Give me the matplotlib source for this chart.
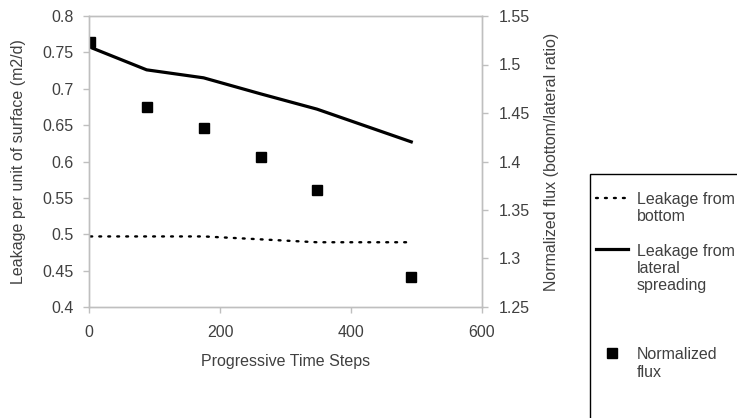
import matplotlib
matplotlib.use("Agg")
import matplotlib.pyplot as plt
from matplotlib.patches import Rectangle

plt.rcParams['font.family'] = ['Liberation Sans', 'DejaVu Sans']
plt.rcParams['font.size'] = 11.5

# data
steps = [2, 88, 175, 262, 348, 492]
bottom = [0.497, 0.497, 0.497, 0.493, 0.489, 0.489]
lateral = [0.757, 0.726, 0.715, 0.693, 0.672, 0.627]
ratio = [1.523, 1.456, 1.435, 1.405, 1.371, 1.281]

xticks = [0, 200, 400, 600]
yticks_left = [0.4, 0.45, 0.5, 0.55, 0.6, 0.65, 0.7, 0.75, 0.8]
yticks_right = [1.25, 1.3, 1.35, 1.4, 1.45, 1.5, 1.55]

txt = '#404040'
grid = '#bfbfbf'

fig = plt.figure(figsize=(7.37, 4.18), dpi=100)
ax = fig.add_axes([89/737, 1 - 307/418, (482 - 89)/737, (307 - 16)/418])
ax2 = ax.twinx()

l1, = ax.plot(steps[:-1] + [487], bottom, color='black', lw=1.7,
              linestyle=(0, (0.8, 3.0)), dash_capstyle='round')
l2, = ax.plot(steps, lateral, color='black', lw=2.3, solid_joinstyle='round')
l3, = ax2.plot(steps, ratio, linestyle='none', marker='s', ms=6.5, color='black')

ax.set_xlim(0, 600)
ax.set_ylim(0.4, 0.8)
ax2.set_ylim(1.25, 1.55)
ax.set_xticks(xticks)
ax.set_xticklabels([str(v) for v in xticks])
ax.set_yticks(yticks_left)
ax.set_yticklabels([f'{v:g}' for v in yticks_left])
ax2.set_yticks(yticks_right)
ax2.set_yticklabels([f'{v:g}' for v in yticks_right])

for a in (ax, ax2):
    for s in a.spines.values():
        s.set_color(grid)
        s.set_linewidth(1)
    a.tick_params(colors=grid, labelcolor=txt, labelsize=11.5, length=4, width=1)
ax.tick_params(axis='y', pad=7)
ax.tick_params(axis='x', pad=9)
ax2.tick_params(axis='y', pad=8)

ax.set_xlabel('Progressive Time Steps', color=txt, labelpad=10)
ax.set_ylabel('Leakage per unit of surface (m2/d)', color=txt, labelpad=12)
ax2.set_ylabel('Normalized flux (bottom/lateral ratio)', color=txt, labelpad=10)

# legend frame runs off the figure at the right and bottom
fig.patches.append(Rectangle((590/737, -0.2), 0.5, (418 - 174)/418 + 0.2,
                             transform=fig.transFigure, fill=False,
                             ec='black', lw=1))

leg = fig.legend([l1, l2, l3],
                 ['Leakage from\nbottom', 'Leakage from\nlateral\nspreading\n\n',
                  'Normalized\nflux'],
                 loc='upper left', bbox_to_anchor=(596/737, 1 - 192/418),
                 frameon=False, borderpad=0, borderaxespad=0,
                 handlelength=2.0, handletextpad=0.55, labelspacing=1.2,
                 numpoints=1, fontsize=11.5, labelcolor=txt)
try:
    for col in leg._legend_handle_box.get_children():
        for item in col.get_children():
            item.align = 'top'
except AttributeError:
    pass

fig.savefig('out.png', dpi=100)
